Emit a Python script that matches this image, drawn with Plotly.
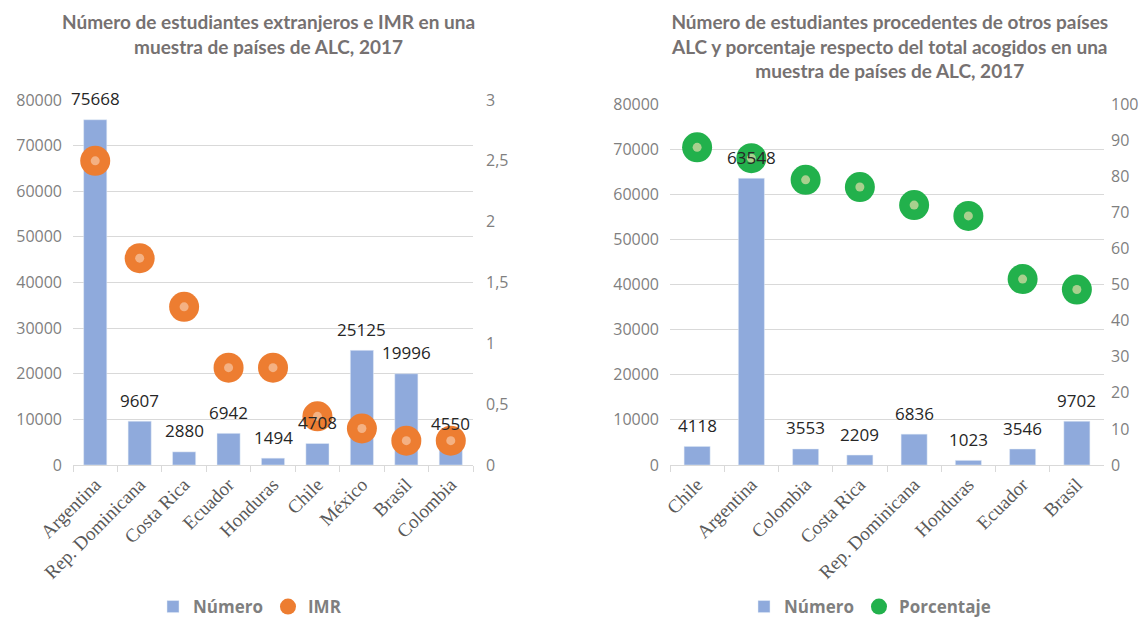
import plotly.graph_objects as go

# left chart: foreign students and IMR
paises_izq = ["Argentina", "Rep. Dominicana", "Costa Rica", "Ecuador", "Honduras",
              "Chile", "México", "Brasil", "Colombia"]
numero_izq = [75668, 9607, 2880, 6942, 1494, 4708, 25125, 19996, 4550]
imr_izq = [2.5, 1.7, 1.3, 0.8, 0.8, 0.4, 0.3, 0.2, 0.2]

# right chart: students from other ALC countries and share
paises_der = ["Chile", "Argentina", "Colombia", "Costa Rica", "Rep. Dominicana",
              "Honduras", "Ecuador", "Brasil"]
numero_der = [4118, 63548, 3553, 2209, 6836, 1023, 3546, 9702]
porcentaje_der = [88, 85, 79, 77, 72, 69, 51.5, 48.6]

# page is 1147x625 and the html body keeps an 8px margin
W, H, OFF = 1147, 625, 8
FW, FH = W - 2 * OFF, H - 2 * OFF
BAR = "#8FAADC"
ORANGE, ORANGE_L = "#ED7D31", "#F4B183"
GREEN, GREEN_L = "#22B14C", "#A9D08E"
GRID = "#D9D9D9"
TICK = dict(family="Open Sans", size=16, color="#7F7F7F")
CAT = dict(family="Liberation Serif", size=19, color="#595959")
LAB = dict(family="Open Sans", size=17, color="#262626")
TITLE = dict(family="Lato", size=19, color="#767171")


def fx(a):
    return (a - OFF) / FW


def fy(a):
    return 1 - (a - OFF) / FH


def px_x(a, b):
    return [fx(a), fx(b)]


def px_y(top, bottom):
    return [fy(bottom), fy(top)]


fig = go.Figure()

# left
fig.add_trace(go.Bar(x=paises_izq, y=numero_izq, name="Número", marker_color=BAR,
                     width=0.52, xaxis="x", yaxis="y", legend="legend"))
fig.add_trace(go.Scatter(x=paises_izq, y=imr_izq, name="IMR", mode="markers",
                         marker=dict(size=30, color=ORANGE), xaxis="x", yaxis="y2",
                         legend="legend"))
fig.add_trace(go.Scatter(x=paises_izq, y=imr_izq, mode="markers", showlegend=False,
                         marker=dict(size=9, color=ORANGE_L), xaxis="x", yaxis="y2",
                         hoverinfo="skip"))

# right
fig.add_trace(go.Bar(x=paises_der, y=numero_der, name="Número", marker_color=BAR,
                     width=0.48, xaxis="x2", yaxis="y3", legend="legend2"))
fig.add_trace(go.Scatter(x=paises_der, y=porcentaje_der, name="Porcentaje", mode="markers",
                         marker=dict(size=30, color=GREEN), xaxis="x2", yaxis="y4",
                         legend="legend2"))
fig.add_trace(go.Scatter(x=paises_der, y=porcentaje_der, mode="markers", showlegend=False,
                         marker=dict(size=9, color=GREEN_L), xaxis="x2", yaxis="y4",
                         hoverinfo="skip"))

annotations = []
for p, v in zip(paises_izq, numero_izq):
    annotations.append(dict(x=p, y=v, xref="x", yref="y", text=str(v), showarrow=False,
                            yanchor="middle", yshift=21, font=LAB))
for p, v in zip(paises_der, numero_der):
    annotations.append(dict(x=p, y=v, xref="x2", yref="y3", text=str(v), showarrow=False,
                            yanchor="middle", yshift=21, font=LAB))

annotations.append(dict(x=fx(268), y=fy(8), xref="paper", yref="paper", showarrow=False,
                        xanchor="center", yanchor="top", font=TITLE,
                        text="<b>Número de estudiantes extranjeros e IMR en una<br>"
                             "muestra de países de ALC, 2017</b>"))
annotations.append(dict(x=fx(889), y=fy(8), xref="paper", yref="paper", showarrow=False,
                        xanchor="center", yanchor="top", font=TITLE,
                        text="<b>Número de estudiantes procedentes de otros países<br>"
                             "ALC y porcentaje respecto del total acogidos en una<br>"
                             "muestra de países de ALC, 2017</b>"))

xcommon = dict(type="category", showline=True, linecolor=GRID, ticks="outside",
               tickson="boundaries", tickcolor=GRID, ticklen=6, tickangle=-45,
               tickfont=CAT, showgrid=False, fixedrange=True, automargin=False)
ycommon = dict(showgrid=True, gridcolor=GRID, zeroline=False, tickfont=TICK,
               ticklabelstandoff=10, automargin=False, tickformat="d")
y2common = dict(side="right", showgrid=False, zeroline=False, tickfont=TICK,
                automargin=False)
legfont = dict(family="Open Sans", size=17, color="#7F7F7F", weight="bold")

fig.update_layout(
    width=FW, height=FH, autosize=False,
    margin=dict(l=0, r=0, t=0, b=0, autoexpand=False),
    paper_bgcolor="white", plot_bgcolor="white",
    annotations=annotations,
    xaxis=dict(domain=px_x(73, 473), anchor="y", range=[-0.5, len(paises_izq) - 0.5],
               **xcommon),
    yaxis=dict(domain=px_y(100, 465), range=[0, 80000], dtick=10000, anchor="x", **ycommon),
    yaxis2=dict(range=[0, 3], dtick=0.5, overlaying="y", anchor="x", ticklabelstandoff=12,
                **y2common),
    xaxis2=dict(domain=px_x(670, 1104), anchor="y3", range=[-0.5, len(paises_der) - 0.5],
                **xcommon),
    yaxis3=dict(domain=px_y(104, 465), range=[0, 80000], dtick=10000, anchor="x2", **ycommon),
    yaxis4=dict(range=[0, 100], dtick=10, overlaying="y3", anchor="x2", ticklabelstandoff=6,
                **y2common),
    separators=",.",
    legend=dict(orientation="h", x=fx(250), y=fy(607), xanchor="center",
                yanchor="middle", font=legfont, itemwidth=30, traceorder="normal"),
    legend2=dict(orientation="h", x=fx(870), y=fy(607), xanchor="center",
                 yanchor="middle", font=legfont, itemwidth=30, traceorder="normal"),
)

fig.write_html("out.html")
